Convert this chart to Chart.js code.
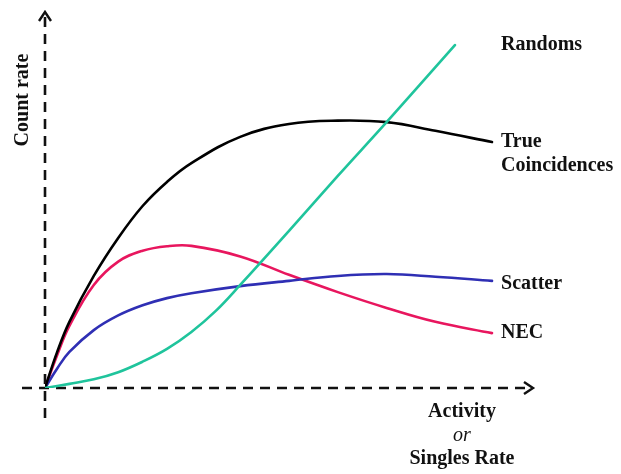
<!DOCTYPE html>
<html>
<head>
<meta charset="utf-8">
<script src="https://cdn.jsdelivr.net/npm/chart.js@4"></script>
<style>
  html, body { margin: 0; padding: 0; background: #fff; }
  canvas { display: block; }
</style>
</head>
<body>
<canvas id="rateChart" width="621" height="474"></canvas>
<script>
// activity (arbitrary units), shared by true / NEC / scatter
const activity = [0, 2.5, 5, 10, 15, 20, 25, 30, 40, 50, 60, 70, 80, 91.6];
const trueCoinc = [0, 9.6, 17.6, 29.8, 39.9, 48.4, 54.8, 59.8, 66.8, 70.2, 71.1, 70.7, 68.4, 65.4];
const nec = [0, 8.8, 16.5, 27.4, 33.6, 36.5, 37.7, 37.8, 35.0, 30.1, 25.5, 21.3, 17.6, 14.6];
const scatter = [0, 5.2, 9.6, 15.4, 19.3, 22.0, 23.9, 25.2, 27.1, 28.5, 29.8, 30.3, 29.6, 28.5];

// randoms grow with the square of the singles, so sampled separately
const randomsActivity = [0, 5, 10, 15, 20, 25, 30, 35, 40, 50, 60, 70, 84];
const randoms = [0, 1.1, 2.3, 4.2, 7.0, 10.4, 14.9, 20.5, 27.4, 41.8, 56.4, 70.7, 91.2];

const seriesNames = ['Randoms', 'True Coincidences', 'Scatter', 'NEC'];
const axisTitleY = 'Count rate';
const axisTitleX = ['Activity', 'or', 'Singles Rate'];

function pairs(xs, ys) {
  return xs.map((x, i) => ({ x: x, y: ys[i] }));
}

const FONT = 'bold 20px "Liberation Serif", "Times New Roman", serif';

// dashed axes with arrow heads, drawn under the curves
const axesPlugin = {
  id: 'axes',
  beforeDatasetsDraw(chart) {
    const c = chart.ctx;
    const x0 = chart.scales.x.getPixelForValue(0);
    const y0 = chart.scales.y.getPixelForValue(0);
    const top = chart.chartArea.top;
    const right = chart.chartArea.right;
    c.save();
    c.strokeStyle = '#111';
    c.lineWidth = 2.6;
    c.setLineDash([10, 7]);
    c.beginPath();
    c.moveTo(x0, y0 + 30);
    c.lineTo(x0, top + 2);
    c.moveTo(x0 - 23, y0);
    c.lineTo(right - 2, y0);
    c.stroke();
    c.setLineDash([]);
    c.lineWidth = 2.4;
    c.beginPath();
    c.moveTo(x0 - 6, top + 9);
    c.lineTo(x0, top);
    c.lineTo(x0 + 6, top + 9);
    c.moveTo(right - 9, y0 - 6);
    c.lineTo(right, y0);
    c.lineTo(right - 9, y0 + 6);
    c.stroke();
    c.restore();
  },
  afterDraw(chart) {
    const c = chart.ctx;
    const xs = chart.scales.x, ys = chart.scales.y;
    const x0 = xs.getPixelForValue(0);
    const labelX = xs.getPixelForValue(activity[activity.length - 1]) + 9;
    const last = a => a[a.length - 1];
    c.save();
    c.fillStyle = '#111';
    c.font = FONT;
    c.textBaseline = 'middle';
    c.textAlign = 'left';
    c.fillText(seriesNames[0], labelX, ys.getPixelForValue(last(randoms)));
    const ty = ys.getPixelForValue(last(trueCoinc));
    c.fillText('True', labelX, ty);
    c.fillText('Coincidences', labelX, ty + 24);
    c.fillText(seriesNames[2], labelX, ys.getPixelForValue(last(scatter)) + 3);
    c.fillText(seriesNames[3], labelX, ys.getPixelForValue(last(nec)));

    // x axis title
    const cx = 462;
    const by = ys.getPixelForValue(0);
    c.textAlign = 'center';
    c.fillText(axisTitleX[0], cx, by + 24);
    c.font = 'italic 20px "Liberation Serif", "Times New Roman", serif';
    c.fillText(axisTitleX[1], cx, by + 48);
    c.font = FONT;
    c.fillText(axisTitleX[2], cx, by + 71);

    // y axis title, rotated
    c.translate(x0 - 22, 100);
    c.rotate(-Math.PI / 2);
    c.fillText(axisTitleY, 0, 0);
    c.restore();
  }
};

const lineStyle = { borderWidth: 2.6, pointRadius: 0, fill: false, tension: 0.4, borderCapStyle: 'round', borderJoinStyle: 'round' };

new Chart(document.getElementById('rateChart').getContext('2d'), {
  type: 'line',
  data: {
    datasets: [
      Object.assign({ label: seriesNames[0], data: pairs(randomsActivity, randoms), borderColor: '#1fc49c' }, lineStyle),
      Object.assign({ label: seriesNames[1], data: pairs(activity, trueCoinc), borderColor: '#000000' }, lineStyle),
      Object.assign({ label: seriesNames[2], data: pairs(activity, scatter), borderColor: '#2f2fb4' }, lineStyle),
      Object.assign({ label: seriesNames[3], data: pairs(activity, nec), borderColor: '#e8165e' }, lineStyle)
    ]
  },
  options: {
    responsive: false,
    animation: false,
    layout: { padding: { left: 45, right: 88, top: 12, bottom: 86 } },
    plugins: { legend: { display: false }, tooltip: { enabled: false } },
    scales: {
      x: { type: 'linear', min: 0, max: 100, display: false },
      y: { min: 0, max: 100, display: false }
    }
  },
  plugins: [axesPlugin]
});
</script>
</body>
</html>
